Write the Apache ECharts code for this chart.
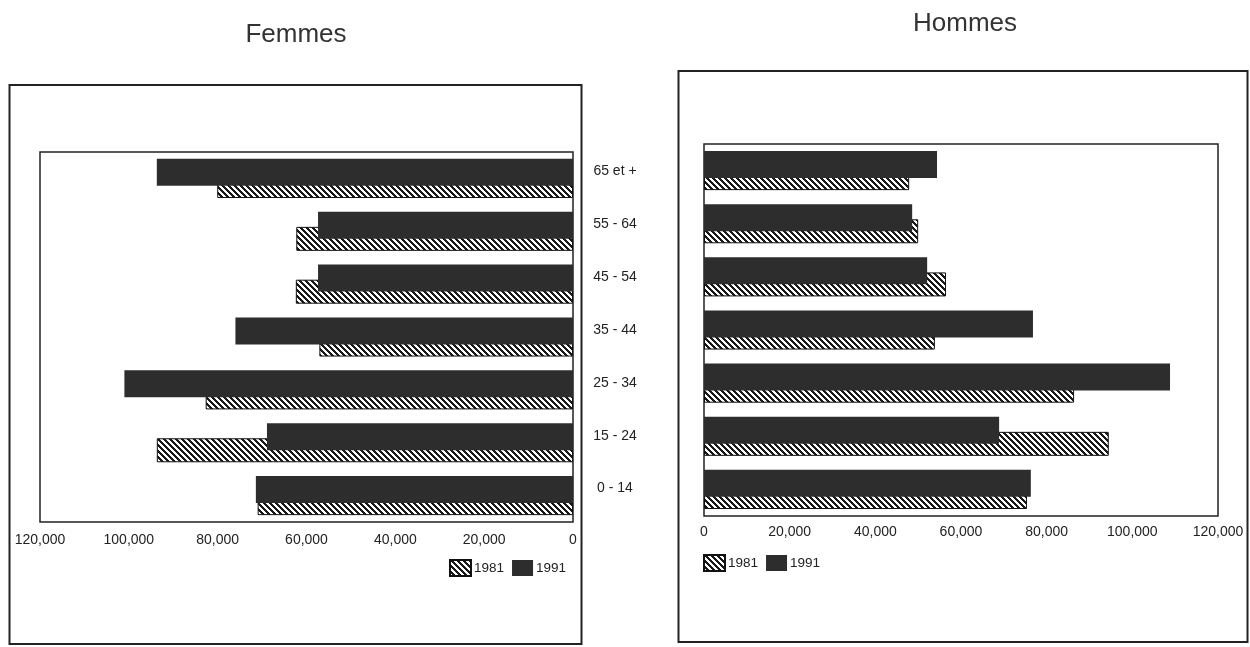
<!DOCTYPE html>
<html>
<head>
<meta charset="utf-8">
<script src="https://cdn.jsdelivr.net/npm/echarts@6/dist/echarts.min.js"></script>
<style>
  html, body { margin: 0; padding: 0; background: #fff; }
  #chart { width: 1250px; height: 647px; }
</style>
</head>
<body>
<div id="chart"></div>
<script>
// Age groups, listed from the bottom of each panel to the top
const ageGroups = ['0 - 14', '15 - 24', '25 - 34', '35 - 44', '45 - 54', '55 - 64', '65 et +'];
const years = ['1981', '1991'];

// Population by age group
const femmes1981 = [71000, 93700, 82700, 57100, 62400, 62300, 80100];
const femmes1991 = [71400, 68900, 101000, 76000, 57400, 57400, 93700];
const hommes1981 = [75400, 94500, 86400, 53900, 56500, 50000, 47900];
const hommes1991 = [76300, 68900, 108800, 76800, 52100, 48600, 54400];

// Axis ticks
const axisMax = 120000;
const axisStep = 20000;

const FONT = '"Liberation Sans", Arial, sans-serif';
const INK = '#222';

// Diagonal hatching for the 1981 bars
function makeHatch() {
  const size = 6;
  const c = document.createElement('canvas');
  c.width = size; c.height = size;
  const ctx = c.getContext('2d');
  const img = ctx.createImageData(size, size);
  for (let y = 0; y < size; y++) {
    for (let x = 0; x < size; x++) {
      const on = ((x - y + size) % size) < 3;
      const i = (y * size + x) * 4;
      const v = on ? 25 : 255;
      img.data[i] = v; img.data[i + 1] = v; img.data[i + 2] = v; img.data[i + 3] = 255;
    }
  }
  ctx.putImageData(img, 0, 0);
  return c;
}
const hatch = { image: makeHatch(), repeat: 'repeat' };
const solid = '#2d2d2d';

const fmt = v => Number(v).toLocaleString('en-US');

function valueAxis(gridIndex, inverse, margin) {
  return {
    type: 'value', gridIndex, inverse,
    min: 0, max: axisMax, interval: axisStep,
    axisLine: { show: false }, axisTick: { show: false }, splitLine: { show: false },
    axisLabel: { formatter: fmt, color: INK, fontFamily: FONT, fontSize: 14, margin }
  };
}

function barPair(gridIndex, v1981, v1991) {
  return [
    {
      name: '1991', type: 'bar', xAxisIndex: gridIndex, yAxisIndex: gridIndex,
      data: v1991, barWidth: 27, barGap: '-44%', z: 3,
      itemStyle: { color: solid }
    },
    {
      name: '1981', type: 'bar', xAxisIndex: gridIndex, yAxisIndex: gridIndex,
      data: v1981, barWidth: 24, barGap: '-44%', z: 2,
      itemStyle: { color: hatch, borderColor: '#111', borderWidth: 1 }
    }
  ];
}

const legendBase = {
  data: years, icon: 'rect', itemWidth: 21, itemHeight: 16, itemGap: 8, padding: 0,
  textStyle: { color: INK, fontFamily: FONT, fontSize: 13.5, padding: [0, 0, 0, -2] },
  selectedMode: false
};

const chart = echarts.init(document.getElementById('chart'), null, { renderer: 'canvas' });
chart.setOption({
  animation: false,
  backgroundColor: '#fff',
  title: [
    { text: 'Femmes', left: 291, top: 17, textAlign: 'center',
      textStyle: { fontFamily: FONT, fontSize: 26, fontWeight: 'normal', color: '#333' } },
    { text: 'Hommes', left: 960, top: 6, textAlign: 'center',
      textStyle: { fontFamily: FONT, fontSize: 26, fontWeight: 'normal', color: '#333' } }
  ],
  graphic: [
    { type: 'rect', shape: { x: 9.5, y: 85, width: 572, height: 559 },
      style: { fill: 'none', stroke: INK, lineWidth: 2 }, z: 0 },
    { type: 'rect', shape: { x: 678.5, y: 71, width: 569, height: 571 },
      style: { fill: 'none', stroke: INK, lineWidth: 2 }, z: 0 }
  ],
  legend: [
    Object.assign({ left: 449, top: 559 }, legendBase),
    Object.assign({ left: 703, top: 554 }, legendBase)
  ],
  grid: [
    { left: 40, top: 152, width: 533, height: 370, show: true, borderColor: INK, borderWidth: 1.5 },
    { left: 704, top: 144, width: 514, height: 372, show: true, borderColor: INK, borderWidth: 1.5 }
  ],
  xAxis: [valueAxis(0, true, 11), valueAxis(1, false, 9)],
  yAxis: [
    {
      type: 'category', gridIndex: 0, position: 'right', data: ageGroups,
      axisLine: { show: false }, axisTick: { show: false },
      axisLabel: { color: INK, fontFamily: FONT, fontSize: 14, align: 'center', margin: 42,
                   interval: 0, verticalAlign: 'bottom', lineHeight: 14 }
    },
    {
      type: 'category', gridIndex: 1, data: ageGroups,
      axisLine: { show: false }, axisTick: { show: false }, axisLabel: { show: false }
    }
  ],
  series: [].concat(barPair(0, femmes1981, femmes1991), barPair(1, hommes1981, hommes1991))
});
</script>
</body>
</html>
